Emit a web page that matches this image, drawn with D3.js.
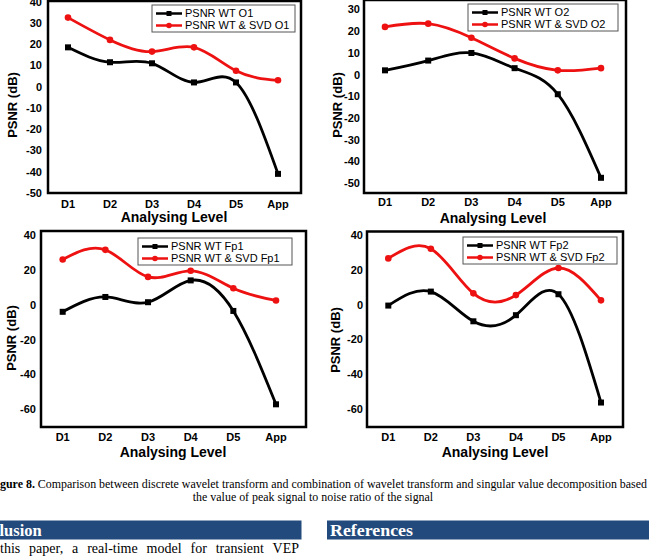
<!DOCTYPE html>
<html>
<head>
<meta charset="utf-8">
<script src="https://cdn.jsdelivr.net/npm/d3@7"></script>
<style>
  body { margin: 0; background: #fff; }
  svg { display: block; }
</style>
</head>
<body>
<div id="chart"></div>
<script>
// Data
const levels = ["D1", "D2", "D3", "D4", "D5", "App"];

const wtO1 = [18.5, 11.5, 11, 2, 2, -41];
const svdO1 = [32.5, 22, 16.5, 18.5, 7.5, 3];
const wtO2 = [2, 6.5, 10, 3, -9, -47.5];
const svdO2 = [22, 23.5, 17, 7.5, 2, 3];
const wtFp1 = [-4, 4.5, 1.5, 14, -3.5, -57];
const svdFp1 = [26, 31.5, 16, 19.5, 9.5, 2.5];
const wtFp2 = [-0.5, 7.5, -9.5, -6, 6, -56];
const svdFp2 = [26.5, 32, 6.5, 5.5, 21, 2.5];

const ticksO1 = [-50, -40, -30, -20, -10, 0, 10, 20, 30, 40];
const ticksO2 = [-50, -40, -30, -20, -10, 0, 10, 20, 30];
const ticksFp = [-60, -40, -20, 0, 20, 40];

const width = 649;
const height = 557;

const svg = d3.select("#chart")
    .append("svg")
    .attr("width", width)
    .attr("height", height);

// Panel layout (frame box, point range, domain, labels)
const panels = [
    { wt: wtO1, svd: svdO1, name: "O1", ticks: ticksO1, domain: [-50, 40.3],
      frame: { x0: 48, x1: 301, y0: 1, y1: 193 }, xr: [68, 278], tickGap: 6,
      legend: { x: 152, y: 5, w: 143 }, yLab: { x: 17, y: 105 }, xLab: { x: 174, y: 222 }, xTickY: 208 },
    { wt: wtO2, svd: svdO2, name: "O2", ticks: ticksO2, domain: [-54.5, 34.4],
      frame: { x0: 364, x1: 626, y0: 0, y1: 193 }, xr: [385, 601], tickGap: 4,
      legend: { x: 468, y: 4, w: 150 }, yLab: { x: 342, y: 105 }, xLab: { x: 493, y: 223 }, xTickY: 206 },
    { wt: wtFp1, svd: svdFp1, name: "Fp1", ticks: ticksFp, domain: [-70, 42.3],
      frame: { x0: 41, x1: 306, y0: 231, y1: 427 }, xr: [62.7, 276], tickGap: 5,
      legend: { x: 138, y: 238, w: 154 }, yLab: { x: 16, y: 338 }, xLab: { x: 173, y: 457 }, xTickY: 441 },
    { wt: wtFp2, svd: svdFp2, name: "Fp2", ticks: ticksFp, domain: [-70, 41.9],
      frame: { x0: 367, x1: 623, y0: 231.5, y1: 427 }, xr: [388.3, 601], tickGap: 4,
      legend: { x: 463, y: 237, w: 154 }, yLab: { x: 340, y: 340 }, xLab: { x: 495, y: 457 }, xTickY: 441 }
];

const black = "#000";
const red = "#ee1111";
const sans = "Liberation Sans, Arial, sans-serif";

panels.forEach(p => {
    const g = svg.append("g");
    const f = p.frame;

    const x = d3.scalePoint().domain(levels).range(p.xr);
    const y = d3.scaleLinear().domain(p.domain).range([f.y1, f.y0]);

    // Y tick labels
    g.selectAll(".ytick")
        .data(p.ticks)
        .join("text")
        .attr("x", f.x0 - p.tickGap)
        .attr("y", d => y(d))
        .attr("dy", "0.35em")
        .attr("text-anchor", "end")
        .style("font-family", sans)
        .style("font-weight", "bold")
        .style("font-size", "11px")
        .text(d => d);

    // X tick labels
    g.selectAll(".xtick")
        .data(levels)
        .join("text")
        .attr("x", d => x(d))
        .attr("y", p.xTickY)
        .attr("text-anchor", "middle")
        .style("font-family", sans)
        .style("font-weight", "bold")
        .style("font-size", "11px")
        .text(d => d);

    // Axis titles
    g.append("text")
        .attr("x", p.xLab.x)
        .attr("y", p.xLab.y)
        .attr("text-anchor", "middle")
        .style("font-family", sans)
        .style("font-weight", "bold")
        .style("font-size", "14px")
        .text("Analysing Level");

    g.append("text")
        .attr("transform", `translate(${p.yLab.x},${p.yLab.y}) rotate(-90)`)
        .attr("text-anchor", "middle")
        .style("font-family", sans)
        .style("font-weight", "bold")
        .style("font-size", "13px")
        .text("PSNR (dB)");

    // Curves
    const line = d3.line()
        .x((d, i) => x(levels[i]))
        .y(d => y(d))
        .curve(d3.curveNatural);

    g.append("path")
        .attr("d", line(p.svd))
        .attr("fill", "none")
        .attr("stroke", red)
        .attr("stroke-width", 2.8);

    g.append("path")
        .attr("d", line(p.wt))
        .attr("fill", "none")
        .attr("stroke", black)
        .attr("stroke-width", 2.8);

    g.selectAll(".dot")
        .data(p.svd)
        .join("circle")
        .attr("cx", (d, i) => x(levels[i]))
        .attr("cy", d => y(d))
        .attr("r", 3.3)
        .attr("fill", red);

    g.selectAll(".sq")
        .data(p.wt)
        .join("rect")
        .attr("x", (d, i) => x(levels[i]) - 3)
        .attr("y", d => y(d) - 3)
        .attr("width", 6)
        .attr("height", 6)
        .attr("fill", black);

    // Frame
    g.append("rect")
        .attr("x", f.x0)
        .attr("y", f.y0)
        .attr("width", f.x1 - f.x0)
        .attr("height", f.y1 - f.y0)
        .attr("fill", "none")
        .attr("stroke", black)
        .attr("stroke-width", 2.5);

    // Legend
    const L = p.legend;
    const lg = g.append("g").attr("transform", `translate(${L.x},${L.y})`);
    lg.append("rect")
        .attr("width", L.w)
        .attr("height", 27)
        .attr("fill", "#fff")
        .attr("stroke", "#555")
        .attr("stroke-width", 1);

    const items = [
        { label: `PSNR WT ${p.name}`, color: black, shape: "square" },
        { label: `PSNR WT & SVD ${p.name}`, color: red, shape: "circle" }
    ];
    items.forEach((it, i) => {
        const cy = 8.5 + i * 12;
        lg.append("line")
            .attr("x1", 4).attr("x2", 30)
            .attr("y1", cy).attr("y2", cy)
            .attr("stroke", it.color)
            .attr("stroke-width", 2.5);
        if (it.shape === "square") {
            lg.append("rect")
                .attr("x", 14.5).attr("y", cy - 2.5)
                .attr("width", 5).attr("height", 5)
                .attr("fill", it.color);
        } else {
            lg.append("circle")
                .attr("cx", 17).attr("cy", cy)
                .attr("r", 2.8)
                .attr("fill", it.color);
        }
        lg.append("text")
            .attr("x", 33)
            .attr("y", cy)
            .attr("dy", "0.36em")
            .style("font-family", sans)
            .style("font-size", "11px")
            .text(it.label);
    });
});

// Caption (page is cropped: "Fi" falls off the left edge, "on" off the right)
const serif = "Liberation Serif, Times New Roman, serif";
const capBase = 12;
const cap = svg.append("text")
    .attr("y", 488)
    .style("font-family", serif)
    .style("font-size", capBase + "px");
const capBold = cap.append("tspan").style("font-weight", "bold").text("Fi");
const capRest = cap.append("tspan");

const wFi = capBold.node().getComputedTextLength();
capBold.text("Figure 8.");
capRest.text(" Comparison between discrete wavelet transform and combination of wavelet transform and singular value decomposition based");
const wAll = cap.node().getComputedTextLength();
const capScale = 648 / (wAll - wFi);
const capSize = capBase * capScale;
cap.style("font-size", capSize + "px").attr("x", -wFi * capScale);
capRest.text(" Comparison between discrete wavelet transform and combination of wavelet transform and singular value decomposition based on");

svg.append("text")
    .attr("x", 313)
    .attr("y", 501)
    .attr("text-anchor", "middle")
    .style("font-family", serif)
    .style("font-size", capSize + "px")
    .text("the value of peak signal to noise ratio of the signal");

// Section headers
const navy = "#224a7c";
svg.append("rect").attr("x", 0).attr("y", 520.5).attr("width", 301.5).attr("height", 19).attr("fill", navy);
svg.append("rect").attr("x", 327).attr("y", 520.5).attr("width", 322).attr("height", 19).attr("fill", navy);

svg.append("text")
    .attr("x", 41.7)
    .attr("y", 536)
    .attr("text-anchor", "end")
    .style("font-family", serif)
    .style("font-weight", "bold")
    .style("font-size", "16.5px")
    .style("fill", "#fff")
    .text("Conclusion");

svg.append("text")
    .attr("x", 330)
    .attr("y", 536)
    .attr("textLength", 83)
    .attr("lengthAdjust", "spacingAndGlyphs")
    .style("font-family", serif)
    .style("font-weight", "bold")
    .style("font-size", "17px")
    .style("fill", "#fff")
    .text("References");

// Body text, justified through word spacing
svg.append("text")
    .attr("x", -4)
    .attr("y", 552.7)
    .attr("text-anchor", "end")
    .style("font-family", serif)
    .style("font-size", "14px")
    .text("In");

const bodyLine = "this paper, a real-time model for transient VEP";
const body = svg.append("text")
    .attr("x", 0)
    .attr("y", 552.7)
    .style("font-family", serif)
    .style("font-size", "14px")
    .text(bodyLine);
const gaps = bodyLine.split(" ").length - 1;
const extra = (299 - body.node().getComputedTextLength()) / gaps;
body.style("word-spacing", Math.max(0, extra) + "px");
</script>
</body>
</html>
